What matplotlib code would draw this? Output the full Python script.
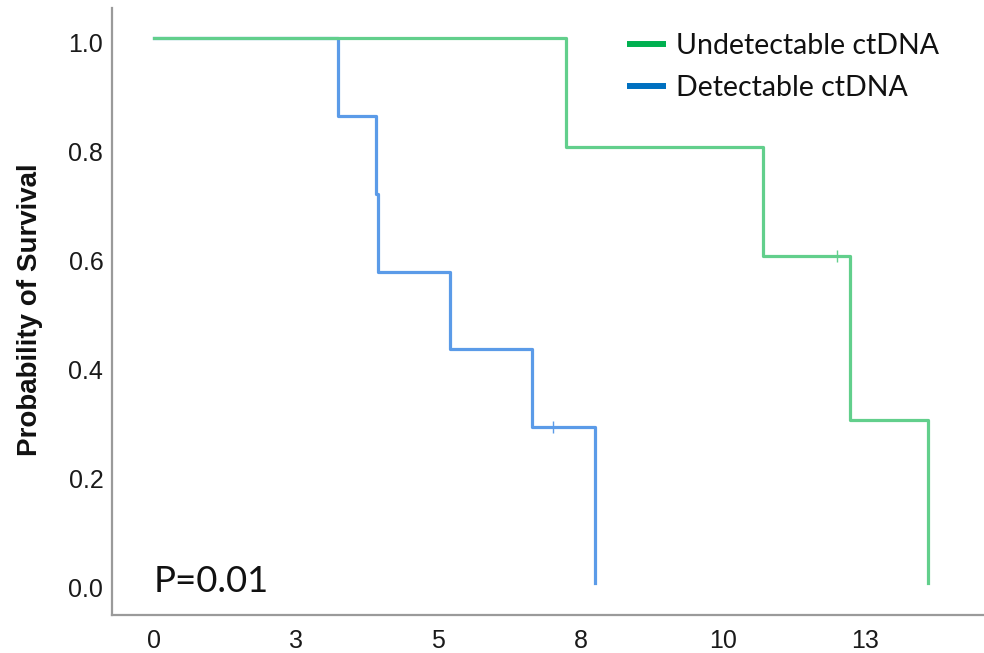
import matplotlib
matplotlib.use("Agg")
import matplotlib.pyplot as plt
from matplotlib.lines import Line2D
from matplotlib.transforms import ScaledTranslation

# Kaplan-Meier steps (time, survival after the step)
undetect_times = [0, 7.25, 10.70, 12.24, 13.60]
undetect_surv = [1.0, 0.8, 0.6, 0.3, 0.0]
undetect_censor_t = [12.0]
undetect_censor_s = [0.6]

detect_times = [0, 3.23, 3.90, 3.94, 5.21, 6.65, 7.76]
detect_surv = [1.0, 0.857, 0.714, 0.571, 0.429, 0.286, 0.0]
detect_censor_t = [7.01]
detect_censor_s = [0.286]

x_ticks = [0, 2.5, 5, 7.5, 10, 12.5]
x_tick_labels = ["0", "3", "5", "8", "10", "13"]
y_ticks = [0.0, 0.2, 0.4, 0.6, 0.8, 1.0]
y_tick_labels = ["0.0", "0.2", "0.4", "0.6", "0.8", "1.0"]

legend_labels = ["Undetectable ctDNA", "Detectable ctDNA"]
p_text = "P=0.01"

GREEN_LINE = "#62cf8c"
BLUE_LINE = "#5b9be8"
GREEN_LEG = "#00b050"
BLUE_LEG = "#0070c0"
SPINE = "#9a9a9a"


def main() -> None:
    fig = plt.figure(figsize=(9.84, 6.53), dpi=100)
    ax = fig.add_axes([0.1135, 0.0582, 0.8865, 0.9291])

    # blue first so the green curve sits on top along the 1.0 line
    ax.step(detect_times, detect_surv, where="post", color=BLUE_LINE, lw=2.3)
    ax.step(undetect_times, undetect_surv, where="post", color=GREEN_LINE, lw=2.3)
    ax.plot(undetect_censor_t, undetect_censor_s, ls="none", marker="|",
            ms=8, mew=1.0, color=GREEN_LINE)
    ax.plot(detect_censor_t, detect_censor_s, ls="none", marker="|",
            ms=8, mew=1.0, color=BLUE_LINE)

    ax.set_xlim(-0.743, 14.59)
    ax.set_ylim(-0.0587, 1.055)

    ax.set_xticks(x_ticks)
    ax.set_xticklabels(x_tick_labels, family="Liberation Sans", fontsize=18)
    ax.set_yticks(y_ticks)
    ax.set_yticklabels(y_tick_labels, family="Liberation Sans", fontsize=18)
    ax.tick_params(axis="both", length=0, colors="#1a1a1a")
    ax.tick_params(axis="x", pad=10)
    ax.tick_params(axis="y", pad=6)
    shift = ScaledTranslation(0, -4 / 100, fig.dpi_scale_trans)
    for lab in ax.get_yticklabels():
        lab.set_transform(lab.get_transform() + shift)

    for side in ["top", "right"]:
        ax.spines[side].set_visible(False)
    for side in ["left", "bottom"]:
        ax.spines[side].set_color(SPINE)
        ax.spines[side].set_linewidth(1.6)

    fig.text(30 / 984, 1 - 310 / 653, "Probability of Survival", rotation=90,
             ha="center", va="center", family="Liberation Sans",
             fontweight="bold", fontsize=20, color="#111111")

    ax.text(0, -0.016, p_text, ha="left", va="baseline", family="Lato",
            fontsize=26.3, color="#111111")

    handles = [Line2D([], [], color=GREEN_LEG, lw=4.3, solid_capstyle="butt"),
               Line2D([], [], color=BLUE_LEG, lw=4.3, solid_capstyle="butt")]
    ax.legend(handles, legend_labels, loc="center left",
              bbox_to_anchor=(0.5907, 0.903), frameon=False,
              prop={"family": "Lato", "size": 20.5},
              handlelength=1.37, handletextpad=0.35, labelspacing=0.57,
              borderpad=0.0, borderaxespad=0.0, labelcolor="#111111")

    fig.savefig("out.png", dpi=100)
    plt.close(fig)


if __name__ == "__main__":
    main()
